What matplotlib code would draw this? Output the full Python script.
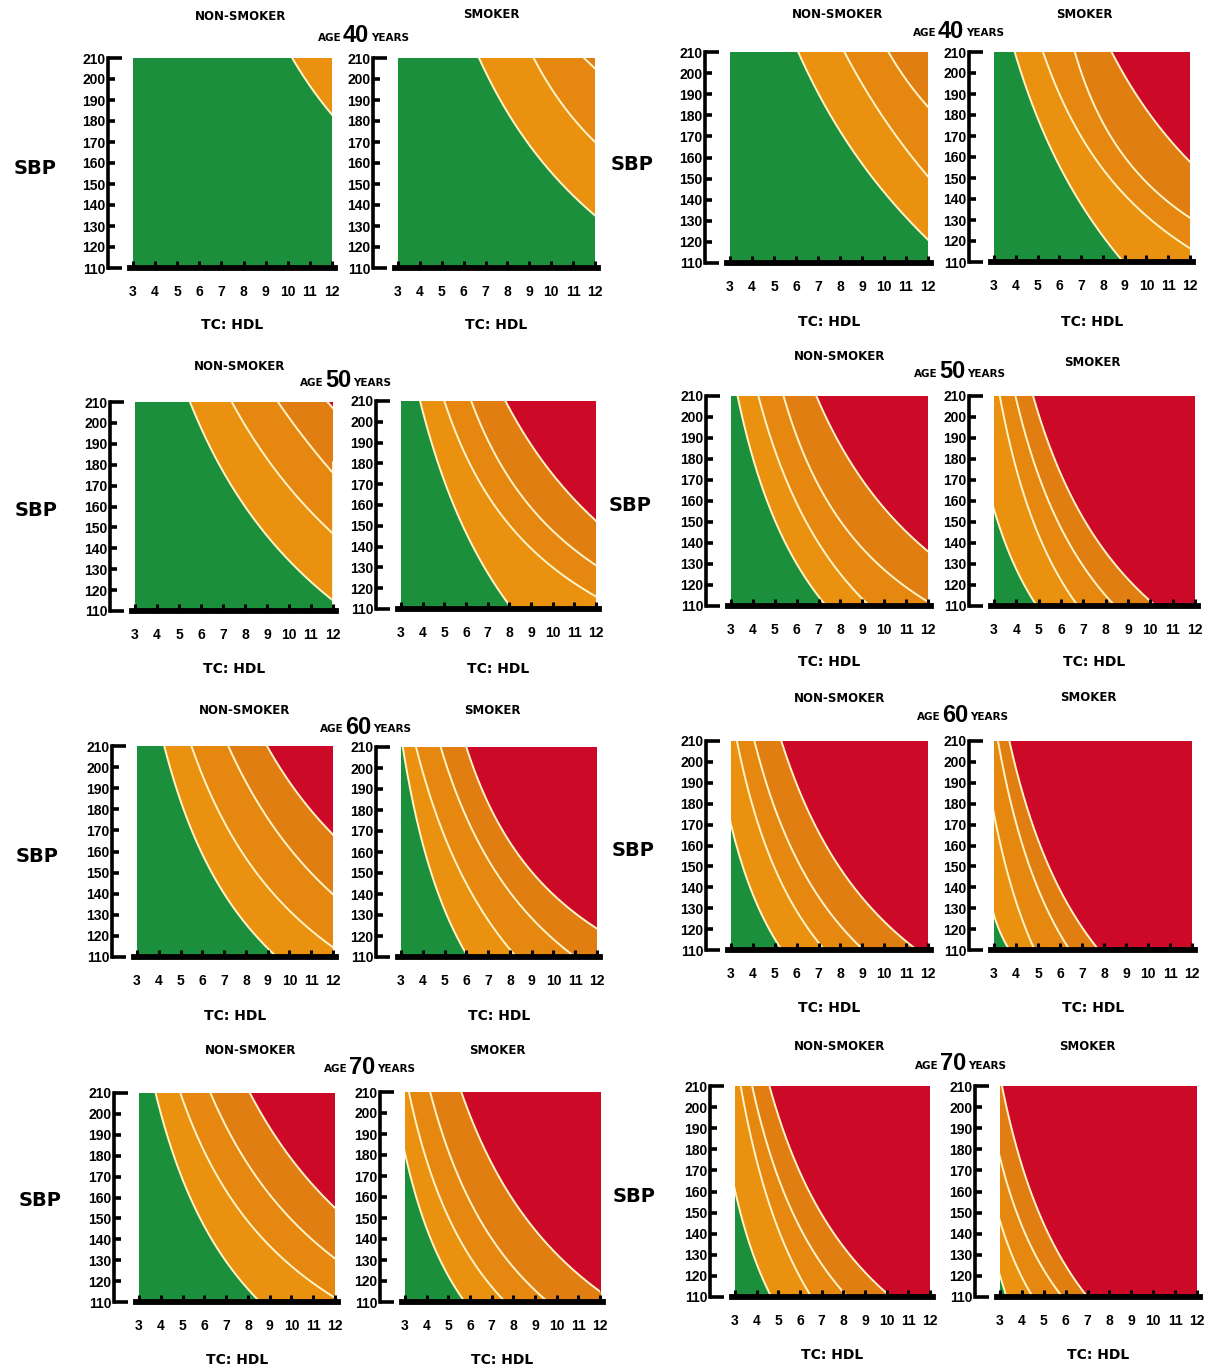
import numpy as np
import matplotlib
matplotlib.use("Agg")
import matplotlib.pyplot as plt
from matplotlib.colors import ListedColormap

W, H = 1211, 1368
plt.rcParams['font.family'] = ['Liberation Sans Narrow', 'Liberation Sans', 'DejaVu Sans']
plt.rcParams['font.weight'] = 'bold'

# ---------------- data ----------------
AGES = [40, 50, 60, 70]
SBP_MAJOR = [110, 210]
SBP_MINOR = [120, 130, 140, 150, 160, 170, 180, 190, 200]
RATIO_TICKS = [3, 4, 5, 6, 7, 8, 9, 10, 11, 12]
BAND_COLORS = ['#1b8f3b', '#ea910f', '#e6870f', '#e07e12', '#cc0a28']
LINE_COLOR = '#fff4c8'

# boundary curves between risk bands; each given by three (TC:HDL, SBP) points
# left column
L40_NS = [[(10.2, 210), (11.05, 196), (12, 183)]]
L40_S = [[(6.7, 210), (8.9, 170), (12, 135)],
         [(9.2, 210), (10.5, 188), (12, 170)],
         [(11.5, 210), (11.75, 207.5), (12, 205)]]
L50_NS = [[(5.5, 210), (8.0, 160), (12, 115)],
          [(7.4, 210), (9.2, 180), (12, 147)],
          [(9.5, 210), (10.6, 194), (12, 176)],
          [(11.75, 210), (11.88, 208.5), (12, 207)]]
L50_S = [[(3.88, 210), (5.43, 160), (8.13, 110)],
         [(5.0, 210), (7.3, 160), (12, 116)],
         [(6.24, 210), (8.9, 160), (12, 131)],
         [(7.82, 210), (9.61, 180), (12, 152.4)]]
L60_NS = [[(4.25, 210), (5.94, 160), (9.42, 110)],
          [(5.5, 210), (7.8, 160), (12, 114.6)],
          [(7.19, 210), (9.05, 175), (12, 139.7)],
          [(8.97, 210), (10.2, 190), (12, 168)]]
L60_S = [[(3.08, 210), (4.1, 160), (6.08, 110)],
         [(3.69, 210), (5.3, 160), (8.3, 110)],
         [(4.82, 210), (6.8, 160), (11.0, 110)],
         [(6.0, 210), (8.3, 160), (12, 123.5)]]
L70_NS = [[(3.76, 210), (5.35, 160), (8.56, 110)],
          [(4.9, 210), (7.2, 160), (12, 112)],
          [(6.28, 210), (8.38, 170), (12, 130.8)],
          [(8.09, 210), (9.54, 185), (12, 155)]]
L70_S = [[(3.0, 180.8), (4.0, 145), (5.76, 110)],
         [(3.18, 210), (4.6, 160), (7.63, 110)],
         [(4.16, 210), (5.9, 160), (9.6, 110)],
         [(5.6, 210), (7.9, 160), (12, 115)]]
# right column
R40_NS = [[(6.1, 210), (8.8, 160), (12, 121)],
          [(8.2, 210), (9.9, 180), (12, 151)],
          [(10.2, 210), (11.0, 197), (12, 184)]]
R40_S = [[(3.95, 210), (5.8, 160), (8.94, 110)],
         [(5.25, 210), (7.6, 160), (12, 116.5)],
         [(6.71, 210), (9.0, 160), (12, 131)],
         [(8.4, 210), (9.9, 184), (12, 157.7)]]
R50_NS = [[(3.3, 210), (4.65, 160), (7.35, 110)],
          [(4.25, 210), (5.95, 160), (9.33, 110)],
          [(5.4, 210), (7.4, 160), (12, 112)],
          [(6.9, 210), (9.0, 170), (12, 136)]]
R50_S = [[(3.0, 156), (3.89, 130), (4.92, 110)],
         [(3.26, 210), (4.43, 160), (6.76, 110)],
         [(3.96, 210), (5.44, 160), (8.42, 110)],
         [(4.75, 210), (6.57, 160), (10.25, 110)]]
R60_NS = [[(3.0, 170), (3.87, 140), (5.32, 110)],
          [(3.27, 210), (4.58, 160), (7.28, 110)],
          [(4.07, 210), (5.7, 160), (9.05, 110)],
          [(5.3, 210), (7.34, 160), (11.5, 110)]]
R60_S = [[(3.0, 126.6), (3.3, 118), (3.7, 110)],
         [(3.0, 175), (3.8, 140), (4.85, 110)],
         [(3.18, 210), (4.3, 160), (6.44, 110)],
         [(3.7, 210), (5.1, 160), (7.76, 110)]]
R70_NS = [[(3.0, 160.4), (3.74, 133), (4.68, 110)],
          [(3.26, 210), (4.4, 160), (6.53, 110)],
          [(3.79, 210), (5.24, 160), (8.2, 110)],
          [(4.59, 210), (6.42, 160), (10.2, 110)]]
R70_S = [[(3.0, 120), (3.15, 115), (3.3, 110)],
         [(3.0, 146), (3.7, 126), (4.5, 110)],
         [(3.0, 176), (4.15, 140), (5.85, 110)],
         [(3.09, 210), (4.4, 160), (7.0, 110)]]

# ---------------- layout (pixel boxes: left, right, top, bottom) ----------------
LEFT_NS_BOX = [(133, 332, 58, 268), (135, 333, 402, 611), (137, 333, 746, 957), (139, 335, 1093, 1302)]
LEFT_S_BOX = [(398, 595, 58, 268), (401, 596, 401, 609), (401, 597, 747, 957), (405, 600, 1092, 1302)]
RIGHT_NS_BOX = [(730, 928, 52, 263), (731, 928, 396, 606), (731, 928, 741, 950), (735, 930, 1086, 1297)]
RIGHT_S_BOX = [(994, 1190, 52, 262), (994, 1195, 396, 606), (994, 1192, 741, 950), (1000, 1197, 1086, 1297)]

LEFT_CURVES = [(L40_NS, L40_S), (L50_NS, L50_S), (L60_NS, L60_S), (L70_NS, L70_S)]
RIGHT_CURVES = [(R40_NS, R40_S), (R50_NS, R50_S), (R60_NS, R60_S), (R70_NS, R70_S)]

WIDE = ['DejaVu Sans']
cmap = ListedColormap(BAND_COLORS)
fig = plt.figure(figsize=(W / 100, H / 100), dpi=100)


def fx(px):
    return px / W


def fy(py):
    return 1 - py / H


def boundary(pts, yd):
    px = np.array([p[0] for p in pts], float)
    py = np.array([p[1] for p in pts], float)
    coef = np.polyfit(np.log(py), np.log(px), 2)
    xd = np.exp(np.polyval(coef, np.log(yd)))
    lo, hi = py.min(), py.max()
    x_lo = np.exp(np.polyval(coef, np.log(lo)))
    x_hi = np.exp(np.polyval(coef, np.log(hi)))
    xd = np.where(yd < lo, np.maximum(xd, x_lo), xd)
    xd = np.where(yd > hi, np.minimum(xd, x_hi), xd)
    return xd


def add_panel(box, curves):
    l, r, t, b = box
    ax = fig.add_axes([fx(l), fy(b), (r - l) / W, (b - t) / H])
    ax.set_xlim(3, 12)
    ax.set_ylim(110, 210)
    n = 500
    xs = np.linspace(3, 12, n)
    ys = np.linspace(110, 210, n)
    yd = np.linspace(105, 215, 900)
    band = np.zeros((n, n), int)
    lines = []
    for pts in curves:
        xd = boundary(pts, yd)
        fk = np.interp(ys, yd, xd)
        band += (xs[None, :] > fk[:, None]).astype(int)
        lines.append(xd)
    ax.imshow(band, extent=[3, 12, 110, 210], origin='lower', aspect='auto',
              cmap=cmap, vmin=-0.5, vmax=4.5, interpolation='nearest', zorder=0)
    for xd in lines:
        ax.plot(xd, yd, color=LINE_COLOR, lw=1.4, zorder=1)
    for s in ('top', 'right'):
        ax.spines[s].set_visible(False)
    ax.spines['left'].set_position(('outward', 18))
    ax.spines['left'].set_linewidth(2.6)
    ax.spines['bottom'].set_linewidth(4.2)
    ax.spines['bottom'].set_bounds(2.85, 12.15)
    ax.spines['bottom'].set_zorder(3)
    ax.set_yticks(SBP_MAJOR)
    ax.set_yticks(SBP_MINOR, minor=True)
    ax.set_yticklabels([str(v) for v in SBP_MAJOR])
    ax.set_yticklabels([str(v) for v in SBP_MINOR], minor=True)
    ax.tick_params(axis='y', which='major', direction='in', length=10, width=2.6,
                   labelsize=10, pad=2)
    ax.tick_params(axis='y', which='minor', direction='in', length=5, width=2.6,
                   labelsize=10, pad=2)
    ax.set_xticks(RATIO_TICKS)
    ax.set_xticklabels([str(v) for v in RATIO_TICKS])
    ax.tick_params(axis='x', which='major', direction='in', length=5, width=2.2,
                   labelsize=10, pad=12.5)
    for lab in ax.get_xticklabels() + ax.get_yticklabels() + ax.get_yticklabels(minor=True):
        lab.set_fontweight('bold')
    return ax


# group text anchors
NS_TITLE = {('L', 0): (241, 17), ('L', 1): (240, 366), ('L', 2): (245, 711), ('L', 3): (251, 1051),
            ('R', 0): (838, 15), ('R', 1): (840, 356), ('R', 2): (840, 699), ('R', 3): (840, 1047)}
S_TITLE = {('L', 0): (491, 15), ('L', 1): None, ('L', 2): (492, 711), ('L', 3): (497, 1050),
           ('R', 0): (1084, 14), ('R', 1): (1092, 363), ('R', 2): (1088, 698), ('R', 3): (1087, 1047)}
AGE_POS = {('L', 0): (356, 36), ('L', 1): (338, 381), ('L', 2): (358, 727), ('L', 3): (362, 1067),
           ('R', 0): (951, 31), ('R', 1): (952, 372), ('R', 2): (955, 715), ('R', 3): (953, 1064)}
SBP_POS = {('L', 0): (35, 168), ('L', 1): (36, 511), ('L', 2): (37, 857), ('L', 3): (40, 1200),
           ('R', 0): (632, 165), ('R', 1): (630, 505), ('R', 2): (633, 851), ('R', 3): (634, 1197)}
XLAB_Y = {('L', 0): 325, ('L', 1): 669, ('L', 2): 1016, ('L', 3): 1360,
          ('R', 0): 322, ('R', 1): 662, ('R', 2): 1008, ('R', 3): 1355}

for side, ns_boxes, s_boxes, curve_sets in (('L', LEFT_NS_BOX, LEFT_S_BOX, LEFT_CURVES),
                                           ('R', RIGHT_NS_BOX, RIGHT_S_BOX, RIGHT_CURVES)):
    for i, age in enumerate(AGES):
        nsb, sb = ns_boxes[i], s_boxes[i]
        add_panel(nsb, curve_sets[i][0])
        add_panel(sb, curve_sets[i][1])
        key = (side, i)
        x, y = NS_TITLE[key]
        fig.text(fx(x), fy(y), 'NON-SMOKER', ha='center', va='center', fontsize=8.5,
                 fontweight='bold', family=WIDE)
        if S_TITLE[key] is not None:
            x, y = S_TITLE[key]
            fig.text(fx(x), fy(y), 'SMOKER', ha='center', va='center', fontsize=8.5,
                     fontweight='bold', family=WIDE)
        x, y = AGE_POS[key]
        fig.text(fx(x), fy(y), str(age), ha='center', va='center', fontsize=17, fontweight='bold')
        fig.text(fx(x - 14), fy(y + 2), 'AGE', ha='right', va='center', fontsize=7.5,
                 fontweight='bold', family=WIDE)
        fig.text(fx(x + 15), fy(y + 2), 'YEARS', ha='left', va='center', fontsize=7.5,
                 fontweight='bold', family=WIDE)
        x, y = SBP_POS[key]
        fig.text(fx(x), fy(y), 'SBP', ha='center', va='center', fontsize=14, fontweight='bold',
                 family=WIDE)
        yl = XLAB_Y[key]
        for bx in (nsb, sb):
            cx = (bx[0] + bx[1]) / 2
            fig.text(fx(cx), fy(yl), 'TC: HDL', ha='center', va='center', fontsize=10,
                     fontweight='bold', family=WIDE)

fig.savefig('out.png', dpi=100, facecolor='white')
